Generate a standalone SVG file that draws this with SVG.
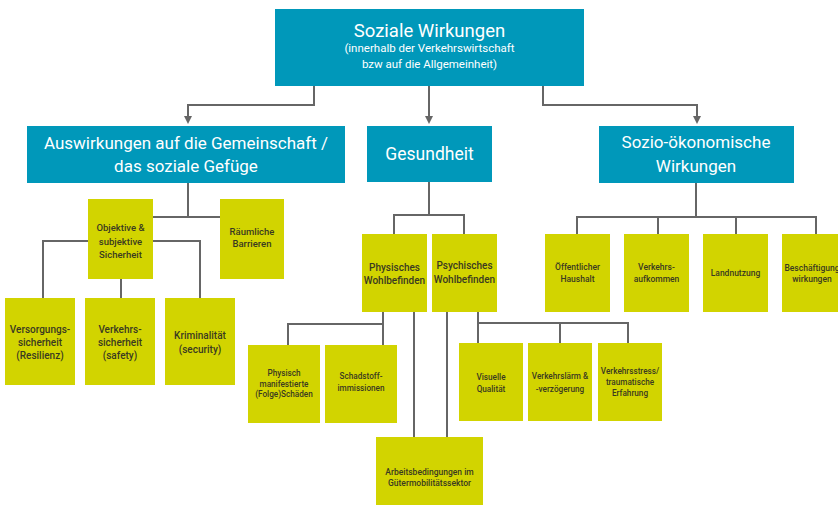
<svg xmlns="http://www.w3.org/2000/svg" width="838" height="508" viewBox="0 0 838 508">
<defs>
<marker id="arr" markerWidth="8" markerHeight="8" refX="4" refY="4" orient="auto" markerUnits="userSpaceOnUse">
<path d="M0,0 L8,4 L0,8 Z" fill="#666"/>
</marker>
<style>
.blue{fill:#0098BA}
.yel{fill:#D2D400}
.hd{font-family:Roboto,"Open Sans","Liberation Sans",sans-serif;fill:#fff;text-anchor:middle}
.t{font-family:Roboto,"Open Sans","Liberation Sans",sans-serif;fill:#3a3a20;text-anchor:middle;font-weight:500}
.ln{fill:none;stroke:#666;stroke-width:2}
</style>
</defs>
<rect width="838" height="508" fill="#fff"/>
<g id="connectors">
<path class="ln" d="M314,86 V105 H188 V120" marker-end="url(#arr)"/>
<path class="ln" d="M429,86 V120" marker-end="url(#arr)"/>
<path class="ln" d="M543,86 V105 H697 V120" marker-end="url(#arr)"/>
<path class="ln" d="M188,183 V217 M153,217 H220"/>
<path class="ln" d="M88,241 H43 V298 M153,241 H200 V298 M121,279 V298"/>
<path class="ln" d="M429,182 V215 M394,234 V215 H464 V234"/>
<path class="ln" d="M383,312 V345 M383,324 H288 V345"/>
<path class="ln" d="M414,312 V437 M447,312 V437"/>
<path class="ln" d="M478,312 V343 M478,323 H628 V343 M560,323 V343"/>
<path class="ln" d="M696,183 V217 M577,234 V217 H816 V234 M658,217 V234 M736,217 V234"/>
</g>
<g id="soziale-wirkungen">
<rect class="blue" x="275" y="9" width="309" height="77"/>
<text class="hd" x="429.5" y="37" font-size="18.5">Soziale Wirkungen</text>
<text class="hd" x="429.5" y="52" font-size="11.5">(innerhalb der Verkehrswirtschaft</text>
<text class="hd" x="429.5" y="68" font-size="11.5">bzw auf die Allgemeinheit)</text>
</g>
<g id="gemeinschaft">
<rect class="blue" x="27" y="126" width="318" height="57"/>
<text class="hd" x="186" y="149" font-size="17">Auswirkungen auf die Gemeinschaft /</text>
<text class="hd" x="186" y="172" font-size="17">das soziale Gefüge</text>
</g>
<g id="gesundheit">
<rect class="blue" x="367" y="126" width="125" height="56"/>
<text class="hd" x="429.5" y="160" font-size="17.5">Gesundheit</text>
</g>
<g id="sozio-oekonomisch">
<rect class="blue" x="599" y="126" width="195" height="57"/>
<text class="hd" x="696" y="148" font-size="17">Sozio-ökonomische</text>
<text class="hd" x="696" y="172" font-size="17">Wirkungen</text>
</g>
<g id="sicherheit">
<rect class="yel" x="88" y="199" width="65" height="80"/>
<text class="t" x="120.5" y="230.5" font-size="9.5">Objektive &amp;</text>
<text class="t" x="120.5" y="244.5" font-size="9.5">subjektive</text>
<text class="t" x="120.5" y="257.5" font-size="9.5">Sicherheit</text>
</g>
<g id="raeumliche-barrieren">
<rect class="yel" x="220" y="199" width="64" height="80"/>
<text class="t" x="252" y="235" font-size="9.5">Räumliche</text>
<text class="t" x="252" y="247" font-size="9.5">Barrieren</text>
</g>
<g id="versorgungssicherheit">
<rect class="yel" x="5" y="298" width="70" height="87"/>
<text class="t" x="40" y="332.5" font-size="10">Versorgungs-</text>
<text class="t" x="40" y="345.5" font-size="10">sicherheit</text>
<text class="t" x="40" y="358.5" font-size="10">(Resilienz)</text>
</g>
<g id="verkehrssicherheit">
<rect class="yel" x="85" y="298" width="70" height="87"/>
<text class="t" x="120" y="332.5" font-size="10">Verkehrs-</text>
<text class="t" x="120" y="345.5" font-size="10">sicherheit</text>
<text class="t" x="120" y="358.5" font-size="10">(safety)</text>
</g>
<g id="kriminalitaet">
<rect class="yel" x="165" y="298" width="70" height="87"/>
<text class="t" x="200" y="338.5" font-size="10">Kriminalität</text>
<text class="t" x="200" y="352.5" font-size="10">(security)</text>
</g>
<g id="physisches-wohlbefinden">
<rect class="yel" x="362" y="234" width="65" height="78"/>
<text class="t" x="394.5" y="270.5" font-size="10">Physisches</text>
<text class="t" x="394.5" y="283.5" font-size="10">Wohlbefinden</text>
</g>
<g id="psychisches-wohlbefinden">
<rect class="yel" x="432" y="234" width="65" height="78"/>
<text class="t" x="464.5" y="268.5" font-size="10">Psychisches</text>
<text class="t" x="464.5" y="282.5" font-size="10">Wohlbefinden</text>
</g>
<g id="physisch-manifestierte-schaeden">
<rect class="yel" x="248" y="345" width="72" height="78"/>
<text class="t" x="284" y="376" font-size="8.2">Physisch</text>
<text class="t" x="284" y="386.5" font-size="8.2">manifestierte</text>
<text class="t" x="284" y="397" font-size="8.2">(Folge)Schäden</text>
</g>
<g id="schadstoffimmissionen">
<rect class="yel" x="325" y="345" width="72" height="78"/>
<text class="t" x="361" y="379" font-size="8.2">Schadstoff-</text>
<text class="t" x="361" y="391" font-size="8.2">immissionen</text>
</g>
<g id="arbeitsbedingungen">
<rect class="yel" x="376" y="437" width="107" height="68"/>
<text class="t" x="429.5" y="475" font-size="8.5">Arbeitsbedingungen im</text>
<text class="t" x="429.5" y="486" font-size="8.5">Gütermobilitätssektor</text>
</g>
<g id="visuelle-qualitaet">
<rect class="yel" x="459" y="343" width="64" height="78"/>
<text class="t" x="491" y="380" font-size="8.2">Visuelle</text>
<text class="t" x="491" y="392" font-size="8.2">Qualität</text>
</g>
<g id="verkehrslaerm">
<rect class="yel" x="528" y="343" width="64" height="78"/>
<text class="t" x="560" y="379" font-size="8.2">Verkehrslärm &amp;</text>
<text class="t" x="560" y="392" font-size="8.2">-verzögerung</text>
</g>
<g id="verkehrsstress">
<rect class="yel" x="598" y="343" width="64" height="78"/>
<text class="t" x="630" y="374" font-size="8.2">Verkehrsstress/</text>
<text class="t" x="630" y="385" font-size="8.2">traumatische</text>
<text class="t" x="630" y="396" font-size="8.2">Erfahrung</text>
</g>
<g id="oeffentlicher-haushalt">
<rect class="yel" x="545" y="234" width="65" height="78"/>
<text class="t" x="577.5" y="270" font-size="8.5">Öffentlicher</text>
<text class="t" x="577.5" y="282" font-size="8.5">Haushalt</text>
</g>
<g id="verkehrsaufkommen">
<rect class="yel" x="624" y="234" width="65" height="78"/>
<text class="t" x="656.5" y="270" font-size="8.5">Verkehrs-</text>
<text class="t" x="656.5" y="282" font-size="8.5">aufkommen</text>
</g>
<g id="landnutzung">
<rect class="yel" x="703" y="234" width="65" height="78"/>
<text class="t" x="735.5" y="276" font-size="8.5">Landnutzung</text>
</g>
<g id="beschaeftigungswirkungen">
<rect class="yel" x="782" y="234" width="65" height="78"/>
<text class="t" x="812" y="271" font-size="8.5">Beschäftigung</text>
<text class="t" x="812" y="282" font-size="8.5">wirkungen</text>
</g>
</svg>
